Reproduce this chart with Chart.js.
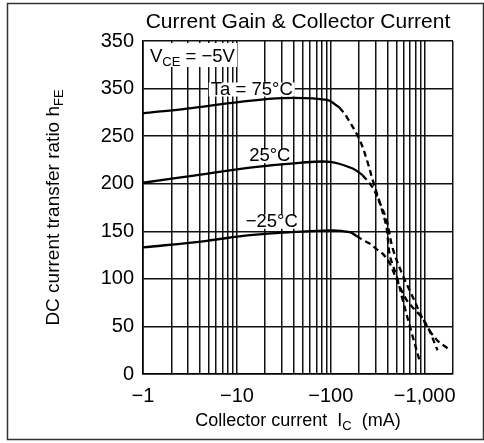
<!DOCTYPE html>
<html>
<head>
<meta charset="utf-8">
<script src="https://cdn.jsdelivr.net/npm/chart.js@4.4.1/dist/chart.umd.min.js"></script>
<style>
  html, body { margin: 0; padding: 0; background: #fff; }
  #wrap { width: 484px; height: 443px; }
</style>
</head>
<body>
<div id="wrap"><canvas id="hfeChart" width="484" height="443"></canvas></div>
<script>
// Valeurs (courant collecteur en mA, valeur absolue)
const cur75 = [1, 2.94, 10.8, 30.9, 90.6, 124];
const hfe75 = [274, 279, 286, 290, 288, 280];
const cur75Dash = [124, 148, 203, 242, 279, 332, 392, 424, 505, 582, 727, 888];
const hfe75Dash = [280, 270, 246, 225, 204, 180, 154, 125, 102, 78, 43, 13];

const cur25 = [1, 3.16, 13.8, 46.8, 98, 171, 218];
const hfe25 = [201, 208, 217, 222, 223, 216, 209];
const cur25Dash = [218, 279, 332, 392, 456, 582, 745, 1000, 1338, 1750];
const hfe25Dash = [209, 196, 180, 162, 132, 104, 81, 54, 36, 27];

const curM25 = [1, 4.8, 13.8, 98, 159, 188];
const hfeM25 = [133, 140, 146, 151, 149, 145];
const curM25Dash = [188, 218, 260, 309, 360, 420, 480, 640, 1000, 1370];
const hfeM25Dash = [145, 141, 137, 131, 126, 117, 104, 78, 55, 25];

// Graduations
const xTickValues = [1, 10, 100, 1000];
const xTickLabels = ['\u22121', '\u221210', '\u2212100', '\u22121,000'];
const yTickValues = [0, 50, 100, 150, 200, 250, 300, 350];
const yTickLabels = ['0', '50', '100', '150', '200', '250', '350', '350'];

const FONT = '"Liberation Sans", Arial, Helvetica, sans-serif';

function pts(xs, ys) {
    return xs.map((x, i) => ({ x: x, y: ys[i] }));
}

function serie(xs, ys, dashed) {
    return {
        data: pts(xs, ys),
        showLine: true,
        borderColor: '#000',
        borderWidth: 2.3,
        borderDash: dashed ? [6, 4] : [],
        pointRadius: 0,
        tension: 0.35,
        fill: false
    };
}

// Fonds blancs des annotations (sous les courbes)
const labelPlugin = {
    id: 'labelPlugin',
    beforeDatasetsDraw(chart) {
        const ctx = chart.ctx;
        const a = chart.chartArea;
        const sx = chart.scales.x, sy = chart.scales.y;
        ctx.save();
        ctx.textBaseline = 'middle';

        function label(txt, xv, yv) {
            ctx.font = '18.5px ' + FONT;
            const w = ctx.measureText(txt).width;
            const cx = sx.getPixelForValue(xv), cy = sy.getPixelForValue(yv);
            ctx.fillStyle = '#fff';
            ctx.fillRect(cx - w / 2 - 2, cy - 7, w + 4, 14);
            ctx.fillStyle = '#000';
            ctx.textAlign = 'center';
            ctx.fillText(txt, cx, cy);
        }
        label('Ta = 75\u00b0C', 14.4, 299);
        label('25\u00b0C', 22.4, 229);
        label('\u221225\u00b0C', 23.5, 160);

        // V_CE = -5V
        ctx.fillStyle = '#fff';
        ctx.fillRect(a.left + 2, a.top + 2, 92, 24);
        ctx.fillStyle = '#000';
        ctx.textAlign = 'left';
        ctx.textBaseline = 'alphabetic';
        let x = a.left + 7, y = a.top + 21;
        ctx.font = '18.5px ' + FONT;
        ctx.fillText('V', x, y);
        x += ctx.measureText('V').width;
        ctx.font = '13px ' + FONT;
        ctx.fillText('CE', x, y + 4);
        x += ctx.measureText('CE').width;
        ctx.font = '18.5px ' + FONT;
        ctx.fillText(' = \u22125V', x, y);
        ctx.restore();
    }
};

// Titres et cadre extérieur
const textPlugin = {
    id: 'textPlugin',
    afterDraw(chart) {
        const ctx = chart.ctx;
        const a = chart.chartArea;
        ctx.save();
        ctx.fillStyle = '#000';
        ctx.textBaseline = 'alphabetic';

        // titre
        ctx.font = '21px ' + FONT;
        ctx.textAlign = 'center';
        ctx.fillText('Current Gain & Collector Current', (a.left + a.right) / 2, 28);

        // titre axe X
        ctx.textAlign = 'left';
        const p1 = 'Collector current  I', p2 = 'C', p3 = '  (mA)';
        ctx.font = '18px ' + FONT;
        const w1 = ctx.measureText(p1).width, w3 = ctx.measureText(p3).width;
        ctx.font = '13px ' + FONT;
        const w2 = ctx.measureText(p2).width;
        const tx = (a.left + a.right) / 2 - (w1 + w2 + w3) / 2;
        const ty = 426;
        ctx.font = '18px ' + FONT;
        ctx.fillText(p1, tx, ty);
        ctx.font = '13px ' + FONT;
        ctx.fillText(p2, tx + w1, ty + 4);
        ctx.font = '18px ' + FONT;
        ctx.fillText(p3, tx + w1 + w2, ty);

        // titre axe Y
        ctx.save();
        ctx.translate(59, (a.top + a.bottom) / 2);
        ctx.rotate(-Math.PI / 2);
        const q1 = 'DC current transfer ratio h', q2 = 'FE';
        ctx.font = '19px ' + FONT;
        const v1 = ctx.measureText(q1).width;
        ctx.font = '13px ' + FONT;
        const v2 = ctx.measureText(q2).width;
        const qx = -(v1 + v2) / 2;
        ctx.font = '19px ' + FONT;
        ctx.fillText(q1, qx, 0);
        ctx.font = '13px ' + FONT;
        ctx.fillText(q2, qx + v1, 4);
        ctx.restore();

        // cadre extérieur
        ctx.strokeStyle = '#333';
        ctx.lineWidth = 1.5;
        ctx.strokeRect(7.5, 3.5, 476, 436);
        ctx.restore();
    }
};

new Chart(document.getElementById('hfeChart'), {
    type: 'scatter',
    data: {
        datasets: [
            serie(cur75, hfe75, false),
            serie(cur75Dash, hfe75Dash, true),
            serie(cur25, hfe25, false),
            serie(cur25Dash, hfe25Dash, true),
            serie(curM25, hfeM25, false),
            serie(curM25Dash, hfeM25Dash, true)
        ]
    },
    options: {
        responsive: false,
        animation: false,
        layout: { padding: { left: 0, top: 41, right: 31, bottom: 0 } },
        plugins: {
            legend: { display: false },
            tooltip: { enabled: false }
        },
        scales: {
            x: {
                type: 'logarithmic',
                min: 1,
                max: 2000,
                afterFit(scale) { scale.height = 69; },
                afterBuildTicks(scale) {
                    const t = [];
                    for (let d = 1; d <= 1000; d *= 10) {
                        for (let m = 1; m <= 9; m++) {
                            if (m * d <= 2000) t.push({ value: m * d });
                        }
                    }
                    scale.ticks = t;
                },
                grid: { color: '#111', lineWidth: 1.5, drawTicks: false },
                border: { color: '#000', width: 1.6 },
                ticks: {
                    autoSkip: false,
                    maxRotation: 0,
                    padding: 10,
                    color: '#000',
                    font: { family: FONT, size: 20 },
                    callback(value) {
                        const i = xTickValues.indexOf(value);
                        return i >= 0 ? xTickLabels[i] : '';
                    }
                }
            },
            y: {
                min: 0,
                max: 350,
                afterFit(scale) { scale.width = 143; },
                grid: { color: '#111', lineWidth: 1.5, drawTicks: false },
                border: { color: '#000', width: 1.6 },
                ticks: {
                    stepSize: 25,
                    padding: 9,
                    color: '#000',
                    font: { family: FONT, size: 20 },
                    callback(value) {
                        const i = yTickValues.indexOf(value);
                        return i >= 0 ? yTickLabels[i] : '';
                    }
                }
            }
        }
    },
    plugins: [labelPlugin, textPlugin]
});
</script>
</body>
</html>
